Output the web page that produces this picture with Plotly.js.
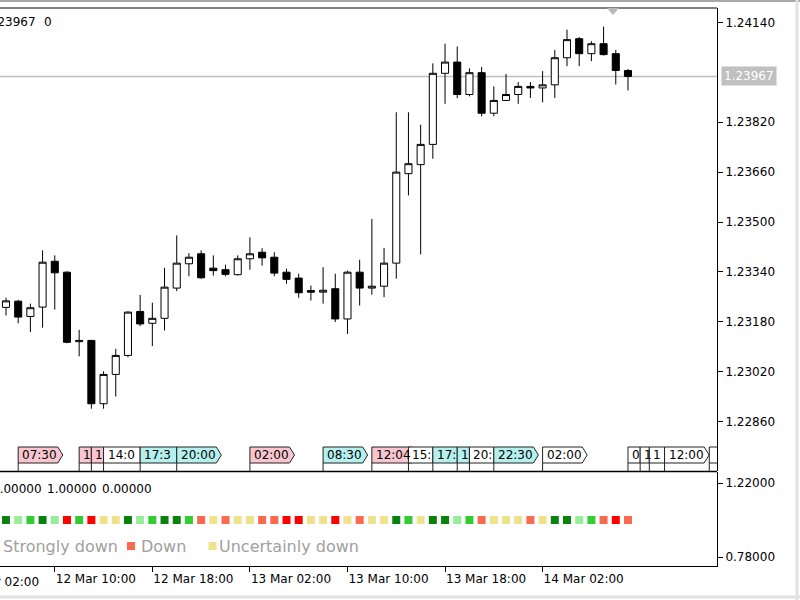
<!DOCTYPE html>
<html><head><meta charset="utf-8">
<script src="https://cdn.plot.ly/plotly-3.0.1.min.js"></script>
<style>html,body{margin:0;padding:0;background:#fff;}#chart{width:800px;height:600px;}</style>
</head><body><div id="chart"></div>
<script>
// ---------- DATA ----------
const times = [
'2018-03-12 06:00','2018-03-12 07:00','2018-03-12 08:00','2018-03-12 09:00','2018-03-12 10:00','2018-03-12 11:00',
'2018-03-12 12:00','2018-03-12 13:00','2018-03-12 14:00','2018-03-12 15:00','2018-03-12 16:00','2018-03-12 17:00',
'2018-03-12 18:00','2018-03-12 19:00','2018-03-12 20:00','2018-03-12 21:00','2018-03-12 22:00','2018-03-12 23:00',
'2018-03-13 00:00','2018-03-13 01:00','2018-03-13 02:00','2018-03-13 03:00','2018-03-13 04:00','2018-03-13 05:00',
'2018-03-13 06:00','2018-03-13 07:00','2018-03-13 08:00','2018-03-13 09:00','2018-03-13 10:00','2018-03-13 11:00',
'2018-03-13 12:00','2018-03-13 13:00','2018-03-13 14:00','2018-03-13 15:00','2018-03-13 16:00','2018-03-13 17:00',
'2018-03-13 18:00','2018-03-13 19:00','2018-03-13 20:00','2018-03-13 21:00','2018-03-13 22:00','2018-03-13 23:00',
'2018-03-14 00:00','2018-03-14 01:00','2018-03-14 02:00','2018-03-14 03:00','2018-03-14 04:00','2018-03-14 05:00',
'2018-03-14 06:00','2018-03-14 07:00','2018-03-14 08:00','2018-03-14 09:00'];
const openP  = [1.23226,1.23246,1.23197,1.23227,1.23374,1.23339,1.23116,1.23120,1.22917,1.23011,1.23072,1.23213,
                1.23175,1.23191,1.23288,1.23366,1.23398,1.23352,1.23347,1.23331,1.23382,1.23403,1.23387,1.23339,
                1.23320,1.23280,1.23275,1.23286,1.23189,1.23339,1.23288,1.23294,1.23368,1.23655,1.23684,1.23749,
                1.23977,1.24013,1.23909,1.23979,1.23849,1.23890,1.23909,1.23935,1.23930,1.23940,1.24027,1.24088,
                1.24040,1.24072,1.24040,1.23986];
const highP  = [1.23257,1.23250,1.23238,1.23409,1.23393,1.23342,1.23154,1.23122,1.23021,1.23093,1.23213,1.23266,
                1.23241,1.23353,1.23457,1.23400,1.23409,1.23393,1.23363,1.23393,1.23451,1.23416,1.23403,1.23350,
                1.23334,1.23296,1.23355,1.23334,1.23344,1.23379,1.23510,1.23417,1.23852,1.23852,1.23812,1.24009,
                1.24072,1.24063,1.23993,1.23997,1.23935,1.23975,1.23949,1.23949,1.23984,1.24052,1.24117,1.24093,
                1.24080,1.24127,1.24052,1.23991];
const lowP   = [1.23200,1.23175,1.23147,1.23161,1.23219,1.23111,1.23069,1.22901,1.22901,1.22940,1.23066,1.23166,
                1.23102,1.23152,1.23278,1.23326,1.23318,1.23328,1.23326,1.23328,1.23347,1.23360,1.23326,1.23302,
                1.23257,1.23248,1.23238,1.23179,1.23141,1.23232,1.23267,1.23259,1.23318,1.23585,1.23396,1.23703,
                1.23879,1.23897,1.23903,1.23839,1.23839,1.23888,1.23879,1.23898,1.23884,1.23898,1.24000,1.24000,
                1.24016,1.24034,1.23941,1.23922];
const closeP = [1.23247,1.23195,1.23225,1.23371,1.23337,1.23114,1.23120,1.22917,1.23011,1.23072,1.23211,1.23173,
                1.23191,1.23291,1.23368,1.23387,1.23321,1.23344,1.23332,1.23382,1.23398,1.23385,1.23336,1.23316,
                1.23273,1.23275,1.23281,1.23189,1.23339,1.23288,1.23294,1.23368,1.23660,1.23687,1.23749,1.23977,
                1.24013,1.23909,1.23979,1.23849,1.23890,1.23909,1.23935,1.23930,1.23940,1.24027,1.24085,1.24040,
                1.24072,1.24037,1.23986,1.23967];
// trend state per bar: SU strongly up, U up, WU uncertainly up, SD strongly down, D down, WD uncertainly down
const trendState = ['SU','WU','U','SU','WU','SD','U','SD','WD','WD','SU','WU','U','SU','SU','U','D','WD','D','WD',
                    'WD','D','D','SD','SD','WD','WD','SD','WD','D','WD','WD','SU','U','WD','SU','SU','WU','U','D',
                    'WD','WD','WD','D','WD','SU','SU','WU','U','D','SD','D'];
const trendLevel = 1.0;
const stateColors = {SU:'#0b820b', U:'#33cc33', WU:'#98ee98', SD:'#ff0000', D:'#fb6a4e', WD:'#efe28c'};
const legendLabels = ['Strongly down','Down','Uncertainly down'];
const legendKeys = ['SD','D','WD'];
const indicatorValues = ['0.00000','1.00000','0.00000'];
const headerValues = ['1.23967','0'];
const priceTicks = [1.22860,1.23020,1.23180,1.23340,1.23500,1.23660,1.23820,1.24140];
const indTicks = [0.78,1.22];
const timeTicks = ['2018-03-12 10:00','2018-03-12 18:00','2018-03-13 02:00','2018-03-13 10:00','2018-03-13 18:00','2018-03-14 02:00'];
const clippedTimeTick = '2018-03-12 02:00';
const clippedTimeLabel = '12 Mar 02:00';
const lastPrice = 1.23967;
const eventTimes = ['2018-03-12 07:00','2018-03-12 12:00','2018-03-12 13:00','2018-03-12 14:00','2018-03-12 17:00',
  '2018-03-12 20:00','2018-03-13 02:00','2018-03-13 08:00','2018-03-13 12:00','2018-03-13 15:00','2018-03-13 17:00',
  '2018-03-13 19:00','2018-03-13 20:00','2018-03-13 22:00','2018-03-14 02:00','2018-03-14 09:00','2018-03-14 10:00',
  '2018-03-14 10:45','2018-03-14 12:00','2018-03-14 15:40'];
const eventTexts = ['07:30','1','1','14:0','17:3','20:00','02:00','08:30','12:04','15:','17:','1','20:','22:30','02:00','0','1','1','12:00',''];
const eventKinds = ['pink','pink','pink','white','cyan','cyan','pink','cyan','pink','white','cyan','cyan','white','cyan','white','white','white','white','white','white'];
const eventCut   = [0,1,1,1,1,0,0,0,0,1,1,1,1,0,0,1,1,1,0,1];

// ---------- LAYOUT GEOMETRY ----------
const FONT = '"DejaVu Sans", sans-serif';
const plotW = 717, plotH = 558, topM = 8, botPix = 566;
const xRange = ['2018-03-12 05:30:30','2018-03-14 16:18:00'];
function py(p){ return (botPix - p)/plotH; }        // pixel y -> paper
function pxp(p){ return p/plotW; }                   // pixel x -> paper
const mainBottom = py(471);
const kindFill = {pink:'#f9c6cf', cyan:'#b4f0ee', white:'#ffffff'};

const toMs = s => Date.parse(s.replace(' ','T') + (s.length===16?':00':'') + 'Z');
const x0ms = toMs(xRange[0]), x1ms = toMs(xRange[1]);
const pxPerMs = plotW/(x1ms-x0ms);
const tpx = s => (toMs(s)-x0ms)*pxPerMs;

const ctx = document.createElement('canvas').getContext('2d');
ctx.font = '12px "DejaVu Sans"';

// ---------- TRACES ----------
const candles = {
  type:'candlestick', x: times, open: openP, high: highP, low: lowP, close: closeP,
  xaxis:'x', yaxis:'y', whiskerwidth:0, hoverinfo:'skip',
  increasing:{line:{color:'#000',width:1}, fillcolor:'#ffffff'},
  decreasing:{line:{color:'#000',width:1}, fillcolor:'#000000'}
};
const squares = {
  type:'scatter', mode:'markers', x: times, y: times.map(()=>trendLevel),
  xaxis:'x', yaxis:'y2', hoverinfo:'skip',
  marker:{symbol:'square', size:8, color: trendState.map(s=>stateColors[s]), line:{width:0}}
};

// ---------- SHAPES & ANNOTATIONS ----------
const shapes = [
  {type:'line', xref:'paper', yref:'y', x0:0, x1:1, y0:lastPrice, y1:lastPrice, line:{color:'#c0c0c0', width:1.5}, layer:'below'},
  {type:'line', xref:'paper', yref:'paper', x0:0, x1:1, y0:1, y1:1, line:{color:'#000', width:1}},
  {type:'line', xref:'paper', yref:'paper', x0:0, x1:1, y0:py(471.5), y1:py(471.5), line:{color:'#000', width:1.5}},
  {type:'line', xref:'paper', yref:'paper', x0:0, x1:pxp(800), y0:py(1), y1:py(1), line:{color:'#a8a8a8', width:2}},
  {type:'line', xref:'paper', yref:'paper', x0:0, x1:pxp(800), y0:py(597), y1:py(597), line:{color:'#e2e2e2', width:3}},
  {type:'line', xref:'paper', yref:'paper', x0:pxp(797), x1:pxp(797), y0:py(0), y1:py(600), line:{color:'#e2e2e2', width:3}},
  {type:'path', xref:'paper', yref:'paper', xsizemode:'pixel', ysizemode:'pixel', xanchor:pxp(613), yanchor:1,
   path:'M-6,0 L6,0 L0,-7 Z', fillcolor:'#b8b8b8', line:{width:0}}
];
const annotations = [];

// event boxes
for (let i=0;i<eventTimes.length;i++){
  const left = tpx(eventTimes[i]);
  const tw = ctx.measureText(eventTexts[i]).width;
  let w, arrow;
  if (eventCut[i]) {
    const nextLeft = i+1<eventTimes.length ? tpx(eventTimes[i+1]) : plotW+6;
    w = nextLeft-left; arrow = false;
  } else { w = tw+5; arrow = true; }
  const path = arrow ? `M0,8 L0,24 L${w},24 L${w+5},16 L${w},8 Z` : `M0,8 L0,24 L${w},24 L${w},8 Z`;
  shapes.push({type:'path', xref:'x', yref:'paper', xsizemode:'pixel', ysizemode:'pixel',
    xanchor:eventTimes[i], yanchor:mainBottom, path:path, fillcolor:kindFill[eventKinds[i]],
    line:{color:'#222', width:1}, layer:'above'});
  shapes.push({type:'path', xref:'x', yref:'paper', xsizemode:'pixel', ysizemode:'pixel',
    xanchor:eventTimes[i], yanchor:mainBottom, path:'M0,0 L0,8', line:{color:'#222', width:1}, layer:'above'});
  if (eventTexts[i]) annotations.push({xref:'x', yref:'paper', x:eventTimes[i], y:mainBottom, xanchor:'left', yanchor:'middle',
    xshift:2, yshift:16, text:eventTexts[i], showarrow:false, font:{family:FONT, size:12, color:'#000'}});
}

// price label
annotations.push({xref:'paper', yref:'y', x:1, y:lastPrice, xanchor:'left', yanchor:'middle', xshift:4,
  text:lastPrice.toFixed(5), showarrow:false, bgcolor:'#c0c0c0', borderpad:2,
  font:{family:FONT, size:12, color:'#ffffff'}});

// header values top-left (partly scrolled out of view, as in the terminal)
annotations.push({xref:'paper', yref:'paper', x:pxp(-16.5), y:py(22), xanchor:'left', yanchor:'middle',
  text:headerValues[0], showarrow:false, font:{family:FONT, size:12, color:'#000'}});
annotations.push({xref:'paper', yref:'paper', x:pxp(42), y:py(22), xanchor:'left', yanchor:'middle',
  text:headerValues[1], showarrow:false, font:{family:FONT, size:12, color:'#000'}});

// indicator values row
const indX = [-10.5, 44.5, 99.5];
indicatorValues.forEach((v,k)=>annotations.push({xref:'paper', yref:'paper', x:pxp(indX[k]), y:py(489),
  xanchor:'left', yanchor:'middle', text:v, showarrow:false, font:{family:FONT, size:12, color:'#000'}}));

// time label whose tick lies left of the visible window (only its tail shows)
annotations.push({xref:'paper', yref:'paper', x:pxp(tpx(clippedTimeTick)), y:0, xanchor:'left', yanchor:'top', xshift:0, yshift:-7,
  text:clippedTimeLabel, showarrow:false, font:{family:FONT, size:12, color:'#000'}});

// legend row
const legTextX = [1, 138.5, 216.5];
const legSqX = [-10, 127, 208.5];
legendLabels.forEach((lab,k)=>{
  annotations.push({xref:'paper', yref:'paper', x:pxp(legTextX[k]), y:py(546), xanchor:'left', yanchor:'middle',
    text:lab, showarrow:false, font:{family:FONT, size:16, color:'#a0a0a0'}});
  shapes.push({type:'rect', xref:'paper', yref:'paper', xsizemode:'pixel', ysizemode:'pixel', xanchor:0, yanchor:0,
    x0:legSqX[k], x1:legSqX[k]+8, y0:16, y1:24, fillcolor:stateColors[legendKeys[k]], line:{width:0}});
});

const layout = {
  width:800, height:600, margin:{l:0, r:83, t:topM, b:34, pad:0},
  paper_bgcolor:'#ffffff', plot_bgcolor:'#ffffff', showlegend:false, hovermode:false,
  boxgap:0.42, boxgroupgap:0,
  font:{family:FONT, size:12, color:'#000'},
  xaxis:{type:'date', range:xRange, anchor:'y2', domain:[0,1], showgrid:false, zeroline:false,
    showline:true, linecolor:'#000', linewidth:1, ticks:'outside', ticklen:5, tickcolor:'#000',
    tickmode:'array', tickvals:timeTicks, tickformat:'%d %b %H:%M', ticklabelstandoff:2,
    ticklabelposition:'outside right', tickfont:{family:FONT, size:12, color:'#000'},
    rangeslider:{visible:false}, fixedrange:true},
  yaxis:{domain:[mainBottom,1], range:[1.227012,1.241865], side:'right', anchor:'x',
    tickvals:priceTicks, ticktext:priceTicks.map(v=>v.toFixed(5)), showgrid:false, zeroline:false,
    showline:true, linecolor:'#000', linewidth:1, ticks:'outside', ticklen:5, tickcolor:'#000',
    tickfont:{family:FONT, size:12, color:'#000'}, fixedrange:true},
  yaxis2:{domain:[0,py(472)], range:[0.72649,1.28541], side:'right', anchor:'x',
    tickvals:indTicks, ticktext:indTicks.map(v=>v.toFixed(5)), showgrid:false, zeroline:false,
    showline:true, linecolor:'#000', linewidth:1, ticks:'outside', ticklen:5, tickcolor:'#000',
    tickfont:{family:FONT, size:12, color:'#000'}, fixedrange:true},
  shapes:shapes, annotations:annotations
};
Plotly.newPlot('chart', [candles, squares], layout, {staticPlot:true, displayModeBar:false});
</script></body></html>
